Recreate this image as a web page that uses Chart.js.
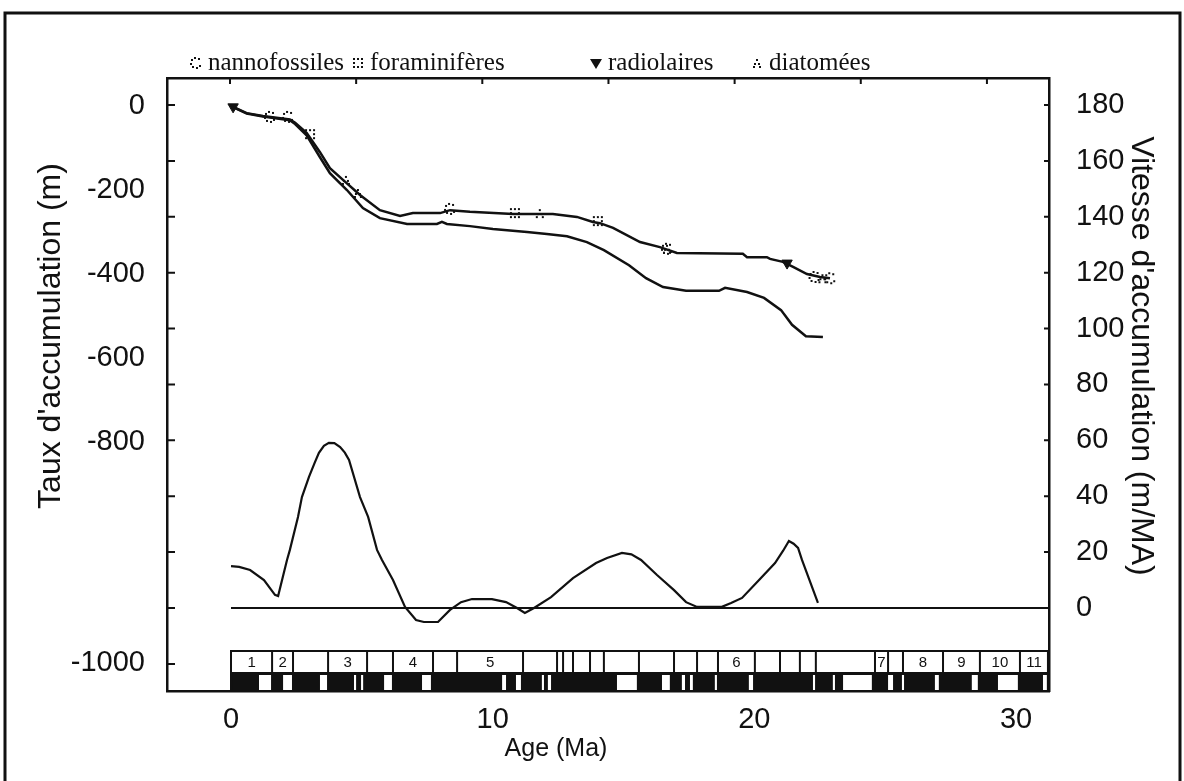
<!DOCTYPE html>
<html>
<head>
<meta charset="utf-8">
<script src="https://cdn.jsdelivr.net/npm/chart.js@4.4.0/dist/chart.umd.min.js"></script>
<style>
  html, body { margin: 0; padding: 0; background: #fff; }
  #wrap { position: relative; width: 1184px; height: 781px; }
</style>
</head>
<body>
<div id="wrap"><canvas id="chart"></canvas></div>
<script>
//* Data

//? Depth curves (m) vs age (Ma)
const upperAge = [0, 0.6, 1.22, 2.25, 2.45, 2.89, 3.40, 3.78, 4.28, 4.93, 5.69, 6.46, 6.95, 7.99, 8.37, 9.13, 10.78, 12.30, 13.22, 13.83, 14.10, 14.60, 15.63, 16.39, 17.04, 19.56, 19.72, 20.48, 20.60, 21.09, 21.48, 22.01, 22.51, 22.89];
const upperDepth = [0, -17, -24, -32, -40, -64, -110, -148, -176, -212, -248, -262, -255, -255, -248, -252, -257, -257, -264, -276, -279, -290, -324, -336, -350, -352, -360, -360, -364, -371, -383, -400, -407, -410];

const lowerAge = [0, 0.6, 1.22, 2.25, 2.45, 2.89, 3.40, 3.78, 4.43, 5.04, 5.69, 6.73, 7.87, 8.06, 8.25, 9.13, 10.01, 11.31, 12.07, 12.84, 13.60, 14.25, 15.21, 15.86, 16.51, 17.39, 18.65, 18.88, 19.72, 20.37, 21.02, 21.44, 21.97, 22.62];
const lowerDepth = [0, -18, -25, -34, -43, -70, -122, -160, -200, -243, -267, -281, -281, -276, -281, -286, -293, -300, -305, -310, -324, -343, -379, -410, -431, -440, -440, -433, -443, -457, -486, -521, -548, -550];

//? Accumulation rate (m/MA)
const rateAge = [0, 0.31, 0.73, 1.26, 1.68, 1.80, 2.14, 2.25, 2.56, 2.71, 2.98, 3.20, 3.36, 3.55, 3.74, 3.95, 4.17, 4.35, 4.51, 4.93, 5.24, 5.58, 5.77, 6.19, 6.65, 7.07, 7.37, 7.91, 8.37, 8.79, 9.21, 9.97, 10.51, 10.93, 11.23, 11.58, 12.23, 13.07, 13.95, 14.37, 14.94, 15.30, 15.67, 16.28, 16.93, 17.39, 17.81, 18.76, 19.11, 19.53, 20.18, 20.79, 21.10, 21.32, 21.50, 21.67, 21.82, 22.43];
const rateValue = [15, 14.7, 13.6, 10.0, 4.7, 4.3, 17.2, 20.8, 32.6, 39.7, 46.9, 52.0, 55.5, 58.0, 59.1, 59.0, 57.6, 55.6, 53.0, 39.7, 32.6, 20.8, 17.2, 10.0, 0.4, -4.3, -5.0, -5.0, -0.7, 2.1, 3.2, 3.2, 2.1, 0, -1.8, 0, 3.9, 10.7, 16.1, 17.9, 19.7, 19.2, 17.2, 11.8, 6.4, 2.1, 0.4, 0.4, 1.8, 3.6, 10.0, 16.1, 20.5, 24.0, 23.0, 21.5, 17.2, 1.8];
const zeroAge = [0, 31.3];
const zeroValue = [0, 0];

//? Biostratigraphic markers on the upper curve
const nannoAge = [1.49, 2.18, 8.37, 16.66, 22.3, 22.9];
const nannoDepth = [-26, -26, -245, -340, -407, -410];
const foramAge = [3.02, 10.85, 14.02];
const foramDepth = [-67, -255, -274];
const radioAge = [0.08, 21.25];
const radioDepth = [-2, -374];
const diatomAge = [4.39, 4.85, 11.8, 16.66, 22.6];
const diatomDepth = [-176, -207, -255, -340, -410];

//? Magnetostratigraphy (Ma)
const chronBounds = [0, 1.57, 2.37, 3.71, 5.20, 6.19, 7.72, 8.64, 11.16, 12.46, 12.69, 13.07, 13.72, 14.25, 15.59, 16.93, 17.81, 18.61, 20.02, 20.98, 21.74, 22.35, 24.61, 25.11, 25.68, 27.21, 28.62, 30.15, 31.22];
const chronLabels = ['1', '2', '', '3', '', '4', '', '5', '', '', '', '', '', '', '', '', '', '6', '', '', '', '', '7', '', '8', '9', '10', '11'];
const normalStart = [1.07, 1.99, 3.40, 4.70, 4.97, 5.85, 7.30, 10.36, 10.89, 11.88, 12.11, 14.75, 16.47, 17.23, 17.54, 18.49, 19.79, 22.24, 23.00, 23.39, 25.11, 25.64, 26.90, 28.31, 29.31, 31.03];
const normalEnd = [1.53, 2.33, 3.67, 4.78, 5.05, 6.15, 7.64, 10.51, 11.08, 11.96, 12.23, 15.51, 16.77, 17.35, 17.65, 18.57, 19.95, 22.32, 23.08, 24.49, 25.30, 25.72, 27.05, 28.54, 30.07, 31.18];

//? Axis labels (the figure puts "-1000" down by the chron bar, off the linear depth scale)
const depthTickValues = [0, -200, -400, -600, -800, -1326];
const depthTickLabels = ['0', '-200', '-400', '-600', '-800', '-1000'];
const topTickValues = [0, 5, 10, 15, 20, 25, 30];

const INK = '#111';
const pts = (xs, ys) => xs.map((x, i) => ({x: x, y: ys[i]}));

// small dotted marks, like the original plot symbols
function makeMark(kind) {
  const c = document.createElement('canvas');
  c.width = 16; c.height = 16;
  const g = c.getContext('2d');
  g.fillStyle = INK;
  const dot = (x, y) => g.fillRect(Math.round(x), Math.round(y), 2, 2);
  if (kind === 'circle') {
    for (let i = 0; i < 7; i++) {
      const a = 0.6 + i * Math.PI * 2 / 8;
      dot(7 + 5 * Math.cos(a), 7 + 5 * Math.sin(a));
    }
  } else if (kind === 'square') {
    [[3,3],[7,3],[11,3],[3,7],[11,7],[3,11],[7,11],[11,11]].forEach(p => dot(p[0], p[1]));
  } else {
    [[7,4],[5,8],[9,8],[4,11],[10,11]].forEach(p => dot(p[0], p[1]));
  }
  return c;
}
const nannoMark = makeMark('circle');
const foramMark = makeMark('square');
const diatomMark = makeMark('diatom');

//* Frame, ticks, titles, legend and chron bar
const legendX = [196, 358, 596, 757];
const decor = {
  id: 'decor',
  beforeDraw(chart) {
    const ctx = chart.ctx;
    ctx.save();
    ctx.fillStyle = '#fff';
    ctx.fillRect(0, 0, chart.width, chart.height);
    ctx.strokeStyle = INK;
    ctx.lineWidth = 3;
    ctx.beginPath();
    ctx.moveTo(5, chart.height); ctx.lineTo(5, 13); ctx.lineTo(1180, 13); ctx.lineTo(1180, chart.height);
    ctx.stroke();
    ctx.restore();
  },
  afterDraw(chart) {
    const ctx = chart.ctx;
    const a = chart.chartArea;
    const sx = chart.scales.x, sx2 = chart.scales.x2, sy2 = chart.scales.y2;
    ctx.save();
    ctx.strokeStyle = INK;
    ctx.fillStyle = INK;

    // inward tick marks
    ctx.lineWidth = 2;
    ctx.beginPath();
    sy2.ticks.forEach(t => {
      const py = sy2.getPixelForValue(t.value);
      ctx.moveTo(a.left, py); ctx.lineTo(a.left + 8, py);
      if (t.value >= 0) { ctx.moveTo(a.right, py); ctx.lineTo(a.right - 5, py); }
    });
    topTickValues.forEach(v => {
      const px = sx2.getPixelForValue(v);
      ctx.moveTo(px, a.top); ctx.lineTo(px, a.top + 6);
    });
    ctx.stroke();

    // chron bar
    const rowTop = a.bottom - 40, rowMid = a.bottom - 19;
    const x0 = sx.getPixelForValue(chronBounds[0]);
    const x1 = sx.getPixelForValue(chronBounds[chronBounds.length - 1]);
    ctx.fillStyle = '#fff';
    ctx.fillRect(x0, rowTop, x1 - x0, rowMid - rowTop);
    ctx.fillStyle = INK;
    ctx.fillRect(x0, rowMid, x1 - x0, a.bottom - rowMid);
    ctx.fillStyle = '#fff';
    normalStart.forEach((s, i) => {
      const p0 = sx.getPixelForValue(s), p1 = sx.getPixelForValue(normalEnd[i]);
      ctx.fillRect(p0, rowMid + 3, Math.max(2, p1 - p0), a.bottom - rowMid - 4);
    });
    ctx.strokeStyle = INK;
    ctx.lineWidth = 2;
    ctx.beginPath();
    ctx.rect(x0, rowTop, x1 - x0, a.bottom - rowTop);
    chronBounds.forEach(b => {
      const px = sx.getPixelForValue(b);
      ctx.moveTo(px, rowTop); ctx.lineTo(px, rowMid);
    });
    ctx.stroke();
    ctx.fillStyle = INK;
    ctx.font = '15px "Liberation Sans", Arial, sans-serif';
    ctx.textAlign = 'center';
    ctx.textBaseline = 'middle';
    chronLabels.forEach((lab, i) => {
      if (!lab) return;
      const px = (sx.getPixelForValue(chronBounds[i]) + sx.getPixelForValue(chronBounds[i + 1])) / 2;
      ctx.fillText(lab, px, (rowTop + rowMid) / 2 + 1);
    });

    // axis titles
    ctx.font = '32px "Liberation Sans", Arial, sans-serif';
    ctx.save();
    ctx.translate(51, 336);
    ctx.rotate(-Math.PI / 2);
    ctx.fillText("Taux d'accumulation (m)", 0, 0);
    ctx.restore();
    ctx.save();
    ctx.translate(1141, 356);
    ctx.rotate(Math.PI / 2);
    ctx.fillText("Vitesse d'accumulation (m/MA)", 0, 0);
    ctx.restore();
    ctx.font = '25px "Liberation Sans", Arial, sans-serif';
    ctx.fillText('Age (Ma)', 556, 749);

    // legend
    ctx.font = '25px "Liberation Serif", "Times New Roman", serif';
    ctx.textAlign = 'left';
    ctx.textBaseline = 'alphabetic';
    chart.data.datasets.filter(d => d.inLegend).forEach((d, i) => {
      const mx = legendX[i], my = 63;
      if (d.pointStyle instanceof HTMLCanvasElement) {
        ctx.drawImage(d.pointStyle, mx - 8, my - 8);
      } else {
        ctx.beginPath();
        ctx.moveTo(mx - 6, my - 4); ctx.lineTo(mx + 6, my - 4); ctx.lineTo(mx, my + 6);
        ctx.closePath();
        ctx.fill();
      }
      ctx.fillText(d.label, mx + 12, 70);
    });
    ctx.restore();
  }
};

const curve = (label, data, axis, width) => ({
  label: label, data: data, yAxisID: axis, borderColor: INK, borderWidth: width,
  pointRadius: 0, tension: 0, fill: false, order: 1
});
const marks = (label, data, style, extra) => Object.assign({
  type: 'scatter', label: label, data: data, yAxisID: 'y', pointStyle: style,
  borderColor: INK, backgroundColor: INK, order: 0, inLegend: true
}, extra || {});

const font29 = {family: '"Liberation Sans", Arial, sans-serif', size: 29};
const border = {display: true, color: INK, width: 2.5};

new Chart(document.getElementById('chart'), {
  type: 'line',
  data: {
    datasets: [
      marks('nannofossiles', pts(nannoAge, nannoDepth), nannoMark),
      marks('foraminifères', pts(foramAge, foramDepth), foramMark),
      marks('radiolaires', pts(radioAge, radioDepth), 'triangle', {rotation: 180, pointRadius: 6}),
      marks('diatomées', pts(diatomAge, diatomDepth), diatomMark),
      curve('upper', pts(upperAge, upperDepth), 'y', 2.5),
      curve('lower', pts(lowerAge, lowerDepth), 'y', 2.5),
      curve('rate', pts(rateAge, rateValue), 'y2', 2.2),
      curve('zero', pts(zeroAge, zeroValue), 'y2', 2)
    ]
  },
  options: {
    responsive: true,
    maintainAspectRatio: false,
    animation: false,
    layout: {padding: 0},
    plugins: {legend: {display: false}, tooltip: {enabled: false}},
    scales: {
      x: {
        type: 'linear', position: 'bottom', min: -2.446, max: 31.26,
        ticks: {stepSize: 10, includeBounds: false, padding: 4, font: font29, color: INK},
        grid: {display: false}, border: border,
        afterFit: s => { s.height = 90; }
      },
      x2: {
        type: 'linear', position: 'top', min: -2.497, max: 32.46,
        ticks: {display: false, stepSize: 5, includeBounds: false},
        grid: {display: false}, border: border,
        afterFit: s => { s.height = 78; }
      },
      y: {
        type: 'linear', position: 'left', min: -1392.9, max: 66.7,
        afterBuildTicks: s => { s.ticks = depthTickValues.map(v => ({value: v})); },
        ticks: {autoSkip: false, padding: 14, font: font29, color: INK,
          callback: (v, i) => depthTickLabels[i]},
        grid: {display: false}, border: border,
        afterFit: s => { s.width = 167; }
      },
      y2: {
        type: 'linear', position: 'right', min: -29.7, max: 189.66,
        ticks: {stepSize: 20, includeBounds: false, autoSkip: false, padding: 19, font: font29, color: INK,
          callback: v => v >= 0 ? v : ''},
        grid: {display: false}, border: border,
        afterFit: s => { s.width = 135; }
      }
    }
  },
  plugins: [decor]
});
</script>
</body>
</html>
